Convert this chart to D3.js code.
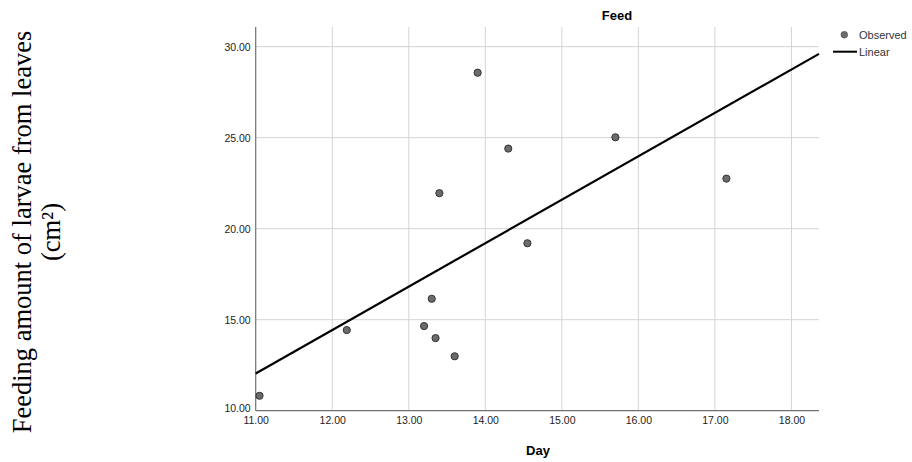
<!DOCTYPE html>
<html><head><meta charset="utf-8">
<script src="https://cdn.jsdelivr.net/npm/d3@7"></script>
<style>body{margin:0;background:#fff}</style>
</head><body>
<svg id="c" width="912" height="462"></svg>
<script>
const days = [11.05, 12.19, 13.20, 13.35, 13.60, 13.30, 13.40, 13.90, 14.30, 14.55, 15.70, 17.15];
const feed = [10.82, 14.43, 14.65, 13.99, 12.99, 16.15, 21.95, 28.57, 24.40, 19.20, 25.02, 22.75];
const xTicks = [11, 12, 13, 14, 15, 16, 17, 18];
const yTicks = [10, 15, 20, 25, 30];
const legendItems = ["Observed", "Linear"];

const svg = d3.select("#c");
const L = 255.7, R = 819, T = 27, B = 410.7;
const x = d3.scaleLinear().domain([11, 18.36]).range([L, R]);
const y = d3.scaleLinear().domain([10, 31.08]).range([B, T]);
const fmt = d3.format(".2f");
const tickFont = "Liberation Sans, Arial, sans-serif";

// grid
svg.append("g").selectAll("line").data(xTicks.slice(1)).join("line")
  .attr("x1", d => x(d)).attr("x2", d => x(d)).attr("y1", T).attr("y2", B)
  .attr("stroke", "#d4d4d4").attr("stroke-width", 1);
svg.append("g").selectAll("line").data(yTicks.slice(1)).join("line")
  .attr("x1", L).attr("x2", R).attr("y1", d => y(d)).attr("y2", d => y(d))
  .attr("stroke", "#d4d4d4").attr("stroke-width", 1);

// axes
const xa = svg.append("g").attr("transform", `translate(0,${B})`)
  .call(d3.axisBottom(x).tickValues(xTicks).tickFormat(fmt).tickSize(0).tickPadding(6));
const ya = svg.append("g").attr("transform", `translate(${L},0)`)
  .call(d3.axisLeft(y).tickValues(yTicks).tickFormat(fmt).tickSize(0).tickPadding(5));
[xa, ya].forEach(a => {
  a.select(".domain").attr("stroke", "#707070").attr("stroke-width", 1.2);
  a.selectAll("text").attr("font-family", tickFont).attr("font-size", 10.5).attr("fill", "#222");
});
xa.select(".domain").attr("d", `M${L},0H${R}`);
ya.select(".domain").attr("d", `M0,${B}V${T}`);
ya.selectAll(".tick text").attr("dy", "0.32em");
ya.selectAll(".tick").filter(d => d === 10).select("text").attr("dy", "0.1em");

// regression line (least squares from data)
const mx = d3.mean(days), my = d3.mean(feed);
const slope = d3.sum(days.map((d, i) => (d - mx) * (feed[i] - my))) / d3.sum(days.map(d => (d - mx) ** 2));
const icpt = my - slope * mx;
const xd = x.domain();
svg.append("line")
  .attr("x1", x(xd[0])).attr("y1", y(icpt + slope * xd[0]))
  .attr("x2", x(xd[1])).attr("y2", y(icpt + slope * xd[1]))
  .attr("stroke", "#000").attr("stroke-width", 2.2);

// points
svg.append("g").selectAll("circle").data(days).join("circle")
  .attr("cx", d => x(d)).attr("cy", (d, i) => y(feed[i])).attr("r", 3.6)
  .attr("fill", "#6b6b6b").attr("stroke", "#333").attr("stroke-width", 1);

// title & x label
svg.append("text").attr("x", 617).attr("y", 20).attr("text-anchor", "middle")
  .attr("font-family", tickFont).attr("font-weight", "bold").attr("font-size", 13).text("Feed");
svg.append("text").attr("x", 538).attr("y", 455).attr("text-anchor", "middle")
  .attr("font-family", tickFont).attr("font-weight", "bold").attr("font-size", 13).text("Day");

// legend
const lf = "'Liberation Sans Narrow', 'Arial Narrow', Liberation Sans, sans-serif";
svg.append("circle").attr("cx", 844.3).attr("cy", 34.7).attr("r", 3.3)
  .attr("fill", "#6b6b6b").attr("stroke", "#555").attr("stroke-width", 0.8);
svg.append("line").attr("x1", 833).attr("x2", 857).attr("y1", 51.7).attr("y2", 51.7)
  .attr("stroke", "#000").attr("stroke-width", 2);
svg.append("g").selectAll("text").data(legendItems).join("text")
  .attr("x", 859).attr("y", (d, i) => 39 + i * 17)
  .attr("font-family", lf).attr("font-size", 11).attr("fill", "#333").text(d => d);

// y label
const yl = svg.append("text").attr("transform", "translate(0,232) rotate(-90)")
  .attr("text-anchor", "middle").attr("font-family", "Liberation Serif, Times New Roman, serif")
  .attr("font-size", 26.5).attr("fill", "#000");
yl.append("tspan").attr("x", 0).attr("y", 31).text("Feeding amount of larvae from leaves");
yl.append("tspan").attr("x", 0).attr("y", 60).text("(cm²)");
</script>
</body></html>
